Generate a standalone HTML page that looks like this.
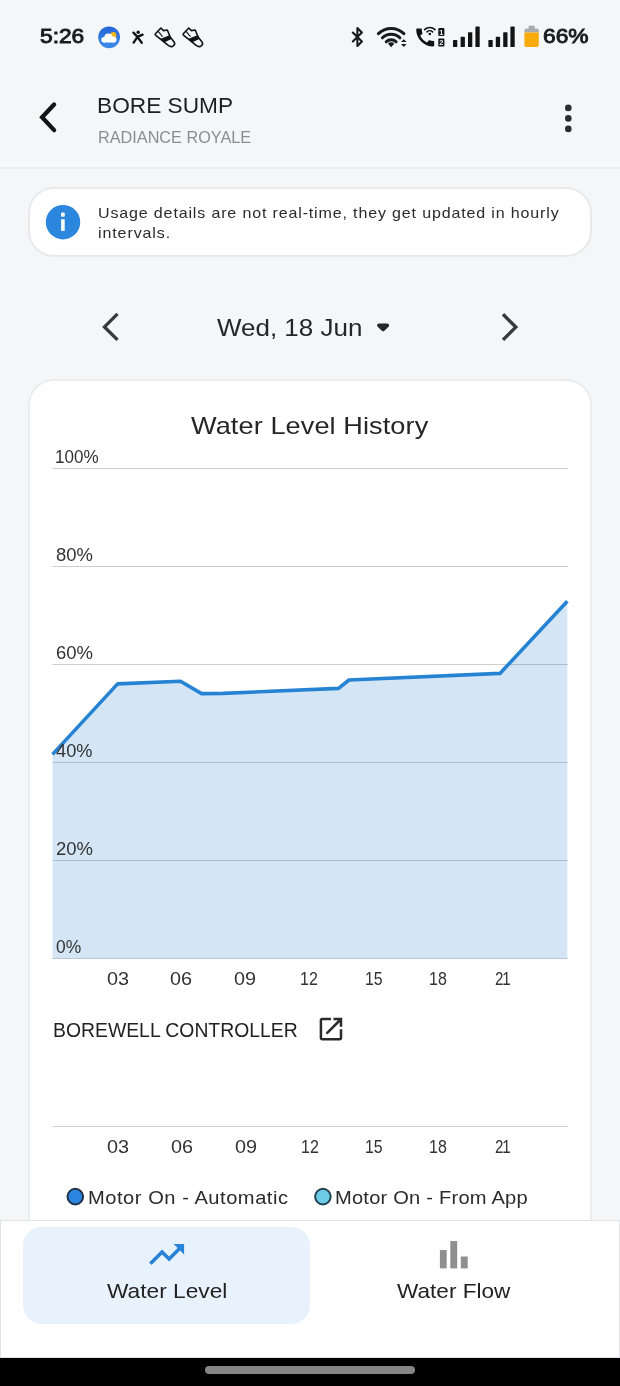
<!DOCTYPE html>
<html lang="en">
<head>
<meta charset="utf-8">
<title>Bore Sump - Water Level</title>
<style>
html,body{margin:0;padding:0;}
body{width:620px;height:1386px;overflow:hidden;background:#f5f6f8;font-family:"Liberation Sans",sans-serif;position:relative;}
.t{position:absolute;white-space:nowrap;transform-origin:0 50%;display:block;}
.abs{position:absolute;}
#hdrglow{left:0;top:159px;width:620px;height:8px;background:linear-gradient(to bottom,rgba(250,251,252,0),#f9fafb);}
#hdrline{left:0;top:167px;width:620px;height:2px;background:#ebecee;}
#infocard{left:27.8px;top:186.8px;width:560.2px;height:66.4px;background:#fff;border:2px solid #e9e9ec;border-radius:26px;box-sizing:content-box;}
#chartcard{left:27.8px;top:378.8px;width:560.2px;height:900px;background:#fff;border:2px solid #ebecee;border-radius:26px;}
#nav{left:0;top:1219.6px;width:620px;height:138px;background:#fff;border:1.5px solid #e2e3e5;box-sizing:border-box;}
#pill{left:23.3px;top:1226.8px;width:286.5px;height:97.2px;background:#e8f2fc;border-radius:18.5px;}
#sysbar{left:0;top:1357.5px;width:620px;height:29px;background:#000;}
#handle{left:205.2px;top:1366px;width:209.6px;height:7.6px;border-radius:4px;background:#858585;}
svg{position:absolute;left:0;top:0;overflow:visible;}
</style>
</head>
<body>
<div class="abs" id="hdrglow"></div>
<div class="abs" id="hdrline"></div>
<div class="abs" id="infocard"></div>
<div class="abs" id="chartcard"></div>

<!-- chart + icons layer -->
<svg id="gfx" width="620" height="1386" viewBox="0 0 620 1386">
  <!-- grid lines -->
  <g stroke="#cdced0" stroke-width="1">
    <line x1="52.5" x2="568" y1="468.5" y2="468.5"/>
    <line x1="52.5" x2="568" y1="566.5" y2="566.5"/>
    <line x1="52.5" x2="568" y1="664.5" y2="664.5"/>
    <line x1="52.5" x2="568" y1="762.5" y2="762.5"/>
    <line x1="52.5" x2="568" y1="860.5" y2="860.5"/>
    <line x1="52.5" x2="568" y1="958.5" y2="958.5"/>
    <line x1="52.5" x2="568" y1="1126.5" y2="1126.5" stroke="#d2d3d5"/>
  </g>
  <!-- water level area -->
  <path d="M52.5 754.4 L117.6 683.9 L180.5 681.2 L201.6 693.6 L223 693.4 L338.5 688.4 L349 680 L500 673.4 L567.3 601.2 L567.3 958.6 L52.5 958.6 Z" fill="#2683d3" fill-opacity="0.2"/>
  <path d="M52.5 754.4 L117.6 683.9 L180.5 681.2 L201.6 693.6 L223 693.4 L338.5 688.4 L349 680 L500 673.4 L567.3 601.2" fill="none" stroke="#2683d3" stroke-width="3.6" stroke-linejoin="round" stroke-linecap="butt"/>

  <!-- header back arrow -->
  <path d="M54.1 104.5 L42.1 117.3 L54.1 130.1" fill="none" stroke="#141414" stroke-width="4.3" stroke-linecap="round" stroke-linejoin="miter"/>
  <!-- kebab -->
  <g fill="#2d2d2d"><circle cx="568.3" cy="107.9" r="3.3"/><circle cx="568.3" cy="118.4" r="3.3"/><circle cx="568.3" cy="128.9" r="3.3"/></g>
  <!-- info icon -->
  <circle cx="63" cy="222.2" r="17.2" fill="#2a87dd"/>
  <rect x="61.1" y="219.2" width="3.6" height="11.7" fill="#fff"/>
  <rect x="61" y="212.5" width="3.8" height="4.2" rx="1.2" fill="#fff"/>
  <!-- date chevrons -->
  <path d="M117.5 313.9 L104.5 326.9 L117.5 339.9" fill="none" stroke="#3a3a3c" stroke-width="3.4" stroke-linejoin="miter"/>
  <path d="M503 314.3 L515.8 327.1 L503 339.9" fill="none" stroke="#3a3a3c" stroke-width="3.4" stroke-linejoin="miter"/>
  <path d="M379 325.4 L387.2 325.4 L383.1 329.3 Z" fill="#262626" stroke="#262626" stroke-width="3.8" stroke-linejoin="round"/>
  <!-- open in new icon -->
  <g transform="translate(315.9 1014.1) scale(1.255)"><path fill="#2a2a2a" d="M19 19H5V5h7V3H5c-1.11 0-2 .9-2 2v14c0 1.1.89 2 2 2h14c1.1 0 2-.9 2-2v-7h-2v7zM14 3v2h3.59l-9.83 9.83 1.41 1.41L19 6.41V10h2V3h-7z"/></g>
  <!-- legend dots -->
  <circle cx="75.3" cy="1196.6" r="7.8" fill="#2a86e0" stroke="#1f3347" stroke-width="2"/>
  <circle cx="322.9" cy="1196.6" r="7.8" fill="#6dcbe8" stroke="#23424f" stroke-width="2"/>
</svg>

<div class="abs" id="nav"></div>
<div class="abs" id="pill"></div>
<div class="abs" id="sysbar"></div>
<div class="abs" id="handle"></div>

<svg id="gfx2" width="620" height="1386" viewBox="0 0 620 1386">
  <!-- trending up -->
  <g transform="translate(145.6 1233.4) scale(1.75)"><path fill="#2683d8" d="M16 6l2.29 2.29-4.88 4.88-4-4L2 16.59 3.41 18l6-6 4 4 6.3-6.29L22 12V6z"/></g>
  <!-- bar chart -->
  <g fill="#8f8f8f"><rect x="439.9" y="1250" width="6.8" height="18.4"/><rect x="450.3" y="1241" width="6.9" height="27.4"/><rect x="460.8" y="1256.5" width="6.9" height="11.9"/></g>
  <!--SI0-->
  <!-- status bar: weather -->
  <defs><clipPath id="wclip"><circle cx="109.1" cy="37.3" r="10.9"/></clipPath>
  <linearGradient id="wgrad" x1="0" y1="0" x2="0" y2="1"><stop offset="0" stop-color="#2366d6"/><stop offset="1" stop-color="#3f8cec"/></linearGradient></defs>
  <circle cx="109.1" cy="37.3" r="10.9" fill="url(#wgrad)"/>
  <circle cx="113.3" cy="35.2" r="3.1" fill="#f5b61a"/>
  <g fill="#fff"><circle cx="108.4" cy="37.7" r="4.1"/><circle cx="113.5" cy="39.5" r="3.1"/><circle cx="104.1" cy="39.7" r="2.8"/><rect x="104.1" y="38.5" width="9.4" height="4"/></g>
  <!-- dancing figure -->
  <g stroke="#111" stroke-width="2.3" stroke-linecap="round" stroke-linejoin="round" fill="none">
    <path d="M133.4 32.6 L137.5 36.9 L142.6 34.6"/>
    <path d="M137.5 36.9 L133.6 42.6 M137.6 37.2 L141.8 42.8"/>
  </g>
  <circle cx="138.2" cy="32.3" r="1.7" fill="#111"/>
  <!-- shoes -->
  <g stroke="#111" stroke-width="1.6" stroke-linejoin="round" fill="#f5f6f8">
    <path d="M155.4 33.8 L160.9 28 L163.5 30.6 L167.3 30 L170.2 37 L174.3 42.2 Q175.6 45 172.6 46.4 Q170.6 47 168.6 45.6 L155.8 35.4 Q154.8 34.6 155.4 33.8 Z"/>
    <path d="M161.4 38.9 L169.8 35.7 L171 38.7 L164 42 Z" fill="#111" stroke-width="1"/>
    <path d="M158.2 31.4 L162.6 36.6" fill="none" stroke-width="1.1"/>
  </g>
  <g transform="translate(27.9 0)" stroke="#111" stroke-width="1.6" stroke-linejoin="round" fill="#f5f6f8">
    <path d="M155.4 33.8 L160.9 28 L163.5 30.6 L167.3 30 L170.2 37 L174.3 42.2 Q175.6 45 172.6 46.4 Q170.6 47 168.6 45.6 L155.8 35.4 Q154.8 34.6 155.4 33.8 Z"/>
    <path d="M161.4 38.9 L169.8 35.7 L171 38.7 L164 42 Z" fill="#111" stroke-width="1"/>
    <path d="M158.2 31.4 L162.6 36.6" fill="none" stroke-width="1.1"/>
  </g>
  <!-- bluetooth -->
  <path d="M352.8 32.5 L361.9 41.5 L357.4 45.9 L357.4 28 L361.9 32.5 L352.8 41.5" fill="none" stroke="#1a1a1a" stroke-width="2.1" stroke-linejoin="round" stroke-linecap="round"/>
  <!-- wifi -->
  <g fill="none" stroke="#1a1a1a" stroke-width="3" stroke-linecap="round">
    <path d="M378.4 33.6 A18.2 18.2 0 0 1 403.9 33.6"/>
    <path d="M382.4 37.8 A12.4 12.4 0 0 1 399.9 37.8"/>
    <path d="M386.2 41.8 A7 7 0 0 1 396.1 41.8"/>
  </g>
  <path d="M391.15 47.2 L387.9 43.6 A4.6 4.6 0 0 1 394.4 43.6 Z" fill="#1a1a1a"/>
  <path d="M403.8 39.2 L406.6 42.1 H401 Z M401 44 H406.6 L403.8 47 Z" fill="#1a1a1a"/>
  <!-- call + wifi -->
  <g transform="translate(413.2 25.5) scale(1.0)"><path fill="#111" d="M20.01 15.38c-1.23 0-2.42-.2-3.53-.56-.35-.12-.74-.03-1.01.24l-1.57 1.97c-2.83-1.35-5.48-3.9-6.89-6.83l1.95-1.66c.27-.28.35-.67.24-1.02-.37-1.11-.56-2.3-.56-3.53 0-.54-.45-.99-.99-.99H4.19C3.65 3 3 3.24 3 3.99 3 13.28 10.73 21 20.01 21c.71 0 .99-.63.99-1.18v-3.45c0-.54-.45-.99-.99-.99z"/></g>
  <g fill="none" stroke="#111" stroke-width="1.6" stroke-linecap="round">
    <path d="M424.6 29.6 A7.4 7.4 0 0 1 435 29.6"/>
    <path d="M427 31.9 A4 4 0 0 1 432.6 31.9"/>
  </g>
  <circle cx="429.8" cy="34" r="1.3" fill="#111"/>
  <!-- sim slots -->
  <rect x="438.3" y="27.9" width="6.1" height="8" rx="1" fill="#111"/>
  <rect x="438.3" y="38.6" width="6.1" height="8" rx="1" fill="#111"/>
  <text x="441.35" y="34.6" font-family="Liberation Sans, sans-serif" font-size="7.4" font-weight="700" fill="#f5f6f8" text-anchor="middle">1</text>
  <text x="441.35" y="45.3" font-family="Liberation Sans, sans-serif" font-size="7.4" font-weight="700" fill="#f5f6f8" text-anchor="middle">2</text>
  <!-- signal bars -->
  <g fill="#141414">
    <rect x="453" y="40" width="4.3" height="7" rx="0.6"/><rect x="460.6" y="36.8" width="4.3" height="10.2" rx="0.6"/><rect x="468" y="32.2" width="4.3" height="14.8" rx="0.6"/><rect x="475.4" y="26.5" width="4.3" height="20.5" rx="0.6"/>
    <rect x="488.4" y="40" width="4.3" height="7" rx="0.6"/><rect x="495.8" y="36.8" width="4.3" height="10.2" rx="0.6"/><rect x="503.2" y="32.2" width="4.3" height="14.8" rx="0.6"/><rect x="510.4" y="26.5" width="4.3" height="20.5" rx="0.6"/>
  </g>
  <!-- battery -->
  <path d="M528.6 25.8 h6 v2.6 h2.2 q2 0 2 2 v2.2 h-14.4 v-2.2 q0 -2 2 -2 h2.2 z" fill="#a9abae"/>
  <path d="M524.4 32.4 h14.4 v12.6 q0 2 -2 2 h-10.4 q-2 0 -2 -2 z" fill="#f8ab0a"/>
<!--SI1-->
</svg>

<span class="t" id="time" style="left:40.14px;top:25.99px;font-size:20.8px;line-height:20.8px;color:#1c1c1e;font-weight:400;-webkit-text-stroke:0.95px #1c1c1e;letter-spacing:-0.005px;transform:scaleX(1.093)">5:26</span>
<span class="t" id="batt" style="left:543.01px;top:25.99px;font-size:20.8px;line-height:20.8px;color:#1c1c1e;font-weight:400;-webkit-text-stroke:0.95px #1c1c1e;letter-spacing:0.008px;transform:scaleX(1.093)">66%</span>
<span class="t" id="title" style="left:97.39px;top:94.52px;font-size:22.3px;line-height:22.3px;color:#1f1f1f;font-weight:400;letter-spacing:0.003px;transform:scaleX(1.017)">BORE SUMP</span>
<span class="t" id="sub" style="left:97.90px;top:129.34px;font-size:17.2px;line-height:17.2px;color:#8d8d8d;font-weight:400;letter-spacing:0.000px;transform:scaleX(0.945)">RADIANCE ROYALE</span>
<span class="t" id="info1" style="left:97.93px;top:205.58px;font-size:14.2px;line-height:14.2px;color:#2b2b2b;font-weight:400;letter-spacing:0.747px;transform:scaleX(1.13)">Usage details are not real-time, they get updated in hourly</span>
<span class="t" id="info2" style="left:98.07px;top:226.28px;font-size:14.2px;line-height:14.2px;color:#2b2b2b;font-weight:400;letter-spacing:0.788px;transform:scaleX(1.13)">intervals.</span>
<span class="t" id="date" style="left:216.66px;top:315.58px;font-size:24px;line-height:24px;color:#262626;font-weight:400;letter-spacing:-0.000px;transform:scaleX(1.082)">Wed, 18 Jun</span>
<span class="t" id="ctitle" style="left:191.16px;top:413.98px;font-size:24px;line-height:24px;color:#262626;font-weight:400;letter-spacing:0.078px;transform:scaleX(1.13)">Water Level History</span>
<span class="t" id="y100" style="left:55.16px;top:449.49px;font-size:17.5px;line-height:17.5px;color:#333;font-weight:400;letter-spacing:0.001px;transform:scaleX(0.973)">100%</span>
<span class="t" id="y80" style="left:55.71px;top:547.29px;font-size:17.5px;line-height:17.5px;color:#333;font-weight:400;letter-spacing:-0.003px;transform:scaleX(1.053)">80%</span>
<span class="t" id="y60" style="left:55.58px;top:645.19px;font-size:17.5px;line-height:17.5px;color:#333;font-weight:400;letter-spacing:-0.004px;transform:scaleX(1.057)">60%</span>
<span class="t" id="y40" style="left:56.11px;top:743.09px;font-size:17.5px;line-height:17.5px;color:#333;font-weight:400;letter-spacing:0.003px;transform:scaleX(1.041)">40%</span>
<span class="t" id="y20" style="left:55.58px;top:840.99px;font-size:17.5px;line-height:17.5px;color:#333;font-weight:400;letter-spacing:-0.004px;transform:scaleX(1.057)">20%</span>
<span class="t" id="y0" style="left:56.18px;top:938.89px;font-size:17.5px;line-height:17.5px;color:#333;font-weight:400;letter-spacing:-0.004px;transform:scaleX(0.996)">0%</span>
<span class="t" id="bw" style="left:52.76px;top:1020.18px;font-size:20.7px;line-height:20.7px;color:#222;font-weight:400;letter-spacing:0.007px;transform:scaleX(0.936)">BOREWELL CONTROLLER</span>
<span class="t" id="lg1" style="left:87.81px;top:1189.63px;font-size:17.8px;line-height:17.8px;color:#2b2b2b;font-weight:400;letter-spacing:0.474px;transform:scaleX(1.13)">Motor On - Automatic</span>
<span class="t" id="lg2" style="left:335.31px;top:1189.63px;font-size:17.8px;line-height:17.8px;color:#2b2b2b;font-weight:400;letter-spacing:0.196px;transform:scaleX(1.13)">Motor On - From App</span>
<span class="t" id="nav1" style="left:106.66px;top:1280.76px;font-size:20.6px;line-height:20.6px;color:#222;font-weight:400;letter-spacing:-0.001px;transform:scaleX(1.103)">Water Level</span>
<span class="t" id="nav2" style="left:397.16px;top:1280.76px;font-size:20.6px;line-height:20.6px;color:#222;font-weight:400;letter-spacing:0.004px;transform:scaleX(1.097)">Water Flow</span>
<span class="t" id="xa0" style="left:106.59px;top:971.19px;font-size:17.5px;line-height:17.5px;color:#333;font-weight:400;letter-spacing:0.005px;transform:scaleX(1.133)">03</span>
<span class="t" id="xa1" style="left:170.39px;top:971.19px;font-size:17.5px;line-height:17.5px;color:#333;font-weight:400;letter-spacing:0.005px;transform:scaleX(1.133)">06</span>
<span class="t" id="xa2" style="left:234.19px;top:971.19px;font-size:17.5px;line-height:17.5px;color:#333;font-weight:400;letter-spacing:0.005px;transform:scaleX(1.133)">09</span>
<span class="t" id="xa3" style="left:300.44px;top:971.19px;font-size:17.5px;line-height:17.5px;color:#333;font-weight:400;letter-spacing:-0.001px;transform:scaleX(0.916)">12</span>
<span class="t" id="xa4" style="left:364.65px;top:971.19px;font-size:17.5px;line-height:17.5px;color:#333;font-weight:400;letter-spacing:0.007px;transform:scaleX(0.909)">15</span>
<span class="t" id="xa5" style="left:428.64px;top:971.19px;font-size:17.5px;line-height:17.5px;color:#333;font-weight:400;letter-spacing:-0.001px;transform:scaleX(0.916)">18</span>
<span class="t" id="xa6" style="left:494.65px;top:971.19px;font-size:17.5px;line-height:17.5px;color:#333;font-weight:400;letter-spacing:-1.238px;transform:scaleX(0.86)">21</span>
<span class="t" id="xb0" style="left:107.49px;top:1139.19px;font-size:17.5px;line-height:17.5px;color:#333;font-weight:400;letter-spacing:0.005px;transform:scaleX(1.133)">03</span>
<span class="t" id="xb1" style="left:171.19px;top:1139.19px;font-size:17.5px;line-height:17.5px;color:#333;font-weight:400;letter-spacing:0.005px;transform:scaleX(1.133)">06</span>
<span class="t" id="xb2" style="left:235.19px;top:1139.19px;font-size:17.5px;line-height:17.5px;color:#333;font-weight:400;letter-spacing:0.005px;transform:scaleX(1.133)">09</span>
<span class="t" id="xb3" style="left:300.74px;top:1139.19px;font-size:17.5px;line-height:17.5px;color:#333;font-weight:400;letter-spacing:-0.001px;transform:scaleX(0.916)">12</span>
<span class="t" id="xb4" style="left:364.85px;top:1139.19px;font-size:17.5px;line-height:17.5px;color:#333;font-weight:400;letter-spacing:0.007px;transform:scaleX(0.909)">15</span>
<span class="t" id="xb5" style="left:428.84px;top:1139.19px;font-size:17.5px;line-height:17.5px;color:#333;font-weight:400;letter-spacing:-0.001px;transform:scaleX(0.916)">18</span>
<span class="t" id="xb6" style="left:494.85px;top:1139.19px;font-size:17.5px;line-height:17.5px;color:#333;font-weight:400;letter-spacing:-1.238px;transform:scaleX(0.86)">21</span>
</body>
</html>
